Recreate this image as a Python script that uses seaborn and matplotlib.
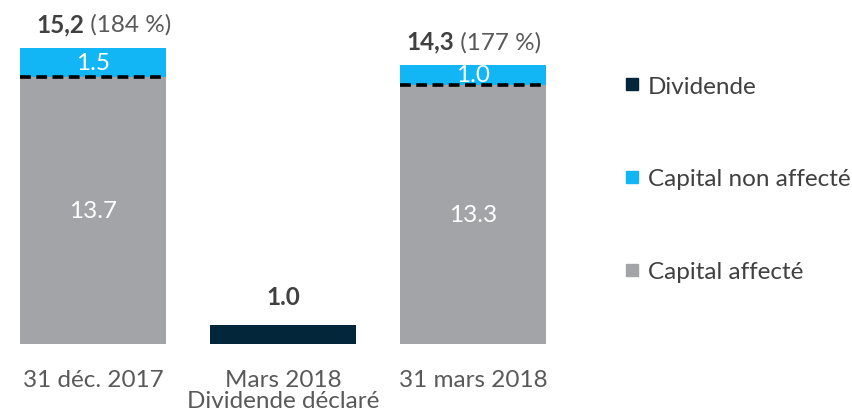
import pandas as pd
import matplotlib.pyplot as plt
import seaborn as sns
from matplotlib.lines import Line2D

# ---------------- data ----------------
categories = ["31 déc. 2017", "Mars 2018\nDividende déclaré", "31 mars 2018"]
capital_affecte = [13.7, 0.0, 13.3]
capital_non_affecte = [1.5, 0.0, 1.0]
dividende = [0.0, 1.0, 0.0]
totals_bold = ["15,2", None, "14,3"]
totals_pct = [" (184 %)", None, " (177 %)"]

C_GRAY = "#A2A4A8"
C_CYAN = "#12B6F5"
C_NAVY = "#03263A"
C_TEXT = "#404040"
C_TEXT2 = "#595959"
FS = 17.5

df = pd.DataFrame({
    "cat": categories,
    "affecte": capital_affecte,
    "non_affecte": capital_non_affecte,
    "dividende": dividende,
})
df["stack"] = df["affecte"] + df["non_affecte"]

sns.set_style("white")
plt.rcParams["font.family"] = ["Lato", "DejaVu Sans"]

fig = plt.figure(figsize=(8.53, 4.14), dpi=100)
W, H = 853, 414
ax = fig.add_axes([-2 / W, 69 / H, 570 / W, 331.5 / H])

bw = 0.77
sns.barplot(data=df, x="cat", y="stack", order=categories, color=C_CYAN,
            width=bw, errorbar=None, linewidth=0, saturation=1, ax=ax)
sns.barplot(data=df, x="cat", y="affecte", order=categories, color=C_GRAY,
            width=bw, errorbar=None, linewidth=0, saturation=1, ax=ax)
sns.barplot(data=df, x="cat", y="dividende", order=categories, color=C_NAVY,
            width=bw, errorbar=None, linewidth=0, saturation=1, ax=ax)

ax.set_xlim(-0.5, 2.5)
ax.set_ylim(0, 17)

for i in range(len(categories)):
    a, n, d = capital_affecte[i], capital_non_affecte[i], dividende[i]
    if a > 0:
        ax.text(i, a / 2, f"{a:.1f}", ha="center", va="center",
                color="white", fontsize=FS)
        ax.plot([i - bw / 2, i + bw / 2], [a, a], color="black",
                linestyle=(0, (3, 1.5)), linewidth=2.6)
    if n > 0:
        ax.text(i, a + n / 2, f"{n:.1f}", ha="center", va="center",
                color="white", fontsize=FS)
    if d > 0:
        ax.text(i, d + 0.85, f"{d:.1f}", ha="center", va="bottom",
                color=C_TEXT, fontsize=FS, fontweight="bold")

# total labels above the stacked bars
split_x = [-0.048, None, 1.90]
for i in range(len(categories)):
    if totals_bold[i] is None:
        continue
    top = capital_affecte[i] + capital_non_affecte[i]
    ax.text(split_x[i], top + 0.65, totals_bold[i], ha="right", va="bottom",
            color=C_TEXT, fontsize=FS, fontweight="bold")
    ax.text(split_x[i], top + 0.65, totals_pct[i], ha="left", va="bottom",
            color=C_TEXT2, fontsize=FS)

ax.set_xlabel("")
ax.set_ylabel("")
ax.set_yticks([])
ax.set_xticks(range(len(categories)))
ax.set_xticklabels(categories, fontsize=FS, color=C_TEXT2, linespacing=1.0)
ax.tick_params(axis="x", length=0, pad=18)
for s in ax.spines.values():
    s.set_visible(False)

handles = [
    Line2D([], [], marker="s", linestyle="", markersize=8, color=C_NAVY),
    Line2D([], [], marker="s", linestyle="", markersize=8, color=C_CYAN),
    Line2D([], [], marker="s", linestyle="", markersize=8, color=C_GRAY),
]
labels = ["Dividende", "Capital non affecté", "Capital affecté"]
fig.legend(handles, labels, loc="upper left", bbox_to_anchor=(614 / W, 1 - 67 / H),
           frameon=False, fontsize=FS, labelcolor=C_TEXT, handlelength=0.7,
           handletextpad=0.3, labelspacing=2.95, borderaxespad=0)

fig.savefig("out.png", dpi=100)
